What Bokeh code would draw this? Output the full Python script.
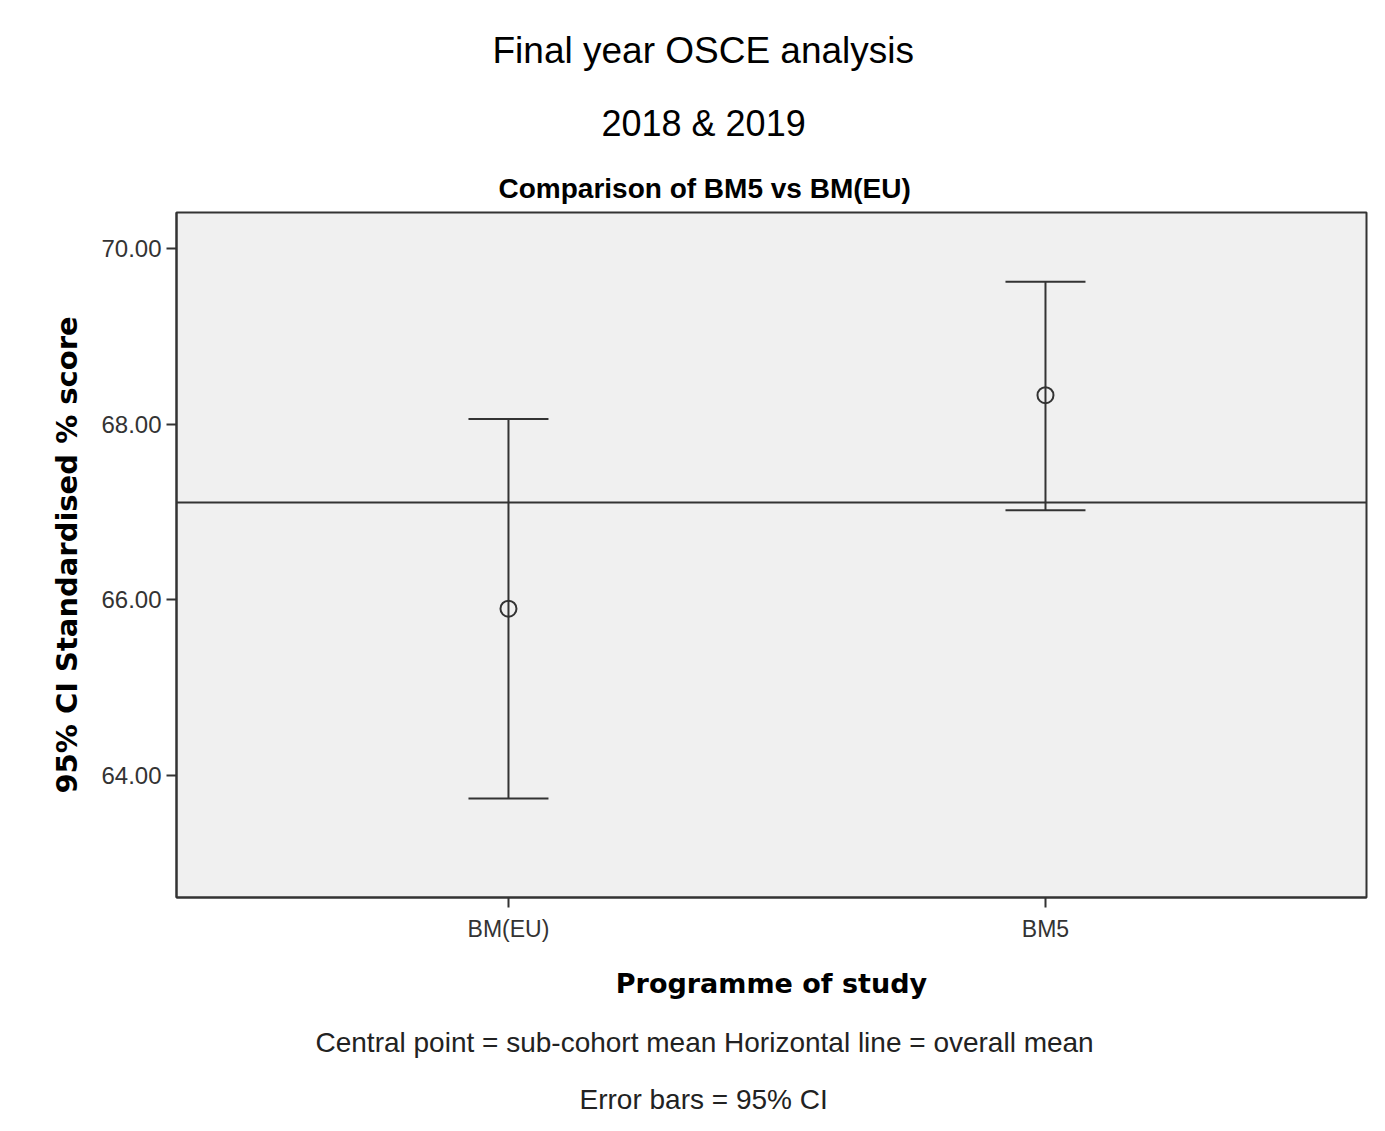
from bokeh.plotting import figure
from bokeh.models import Range1d, FixedTicker, Span, Whisker, TeeHead, ColumnDataSource, Title
from bokeh.embed import file_html
from bokeh.resources import INLINE

# ---- data ----
programmes = ["BM(EU)", "BM5"]
means = [65.90, 68.33]
ci_lower = [63.74, 67.02]
ci_upper = [68.06, 69.62]
overall_mean = 67.11
y_ticks = [64, 66, 68, 70]

title_lines = ["Final year OSCE analysis", "2018 & 2019"]
subtitle = "Comparison of BM5 vs BM(EU)"
footer_lines = ["Central point = sub-cohort mean Horizontal line = overall mean",
                "Error bars = 95% CI"]

positions = [i + 1 for i in range(len(programmes))]

W, H = 1369, 1115
FL, FR, FT, FB = 176, 1366, 212, 898  # frame edges in px

x0, x1 = 0.3818, 2.5978
y0, y1 = 62.614, 70.409

p = figure(width=W, height=H, output_backend="svg", toolbar_location=None,
           x_range=Range1d(x0, x1), y_range=Range1d(y0, y1),
           min_border_left=FL, min_border_right=W - FR,
           min_border_top=FT, min_border_bottom=H - FB)

p.border_fill_color = "white"
p.background_fill_color = "#f0f0f0"
p.outline_line_color = "#333333"
p.outline_line_width = 2
p.grid.visible = False

# axes
p.yaxis.ticker = FixedTicker(ticks=y_ticks)
p.yaxis.major_label_overrides = {t: f"{t:.2f}" for t in y_ticks}
p.xaxis.ticker = FixedTicker(ticks=positions)
p.xaxis.major_label_overrides = {pos: name for pos, name in zip(positions, programmes)}
for ax in (p.xaxis[0], p.yaxis[0]):
    ax.minor_tick_line_color = None
    ax.major_tick_in = 0
    ax.major_tick_out = 10
    ax.major_tick_line_color = "#333333"
    ax.major_tick_line_width = 2
    ax.axis_line_color = "#333333"
    ax.axis_line_width = 2
    ax.major_label_text_font = "Liberation Sans"
    ax.major_label_text_color = "#333333"
    ax.axis_label_text_font = "DejaVu Sans"
    ax.axis_label_text_font_style = "bold"
    ax.axis_label_text_color = "black"

p.yaxis.major_label_text_font_size = "24px"
p.yaxis.major_label_standoff = 5
p.yaxis.axis_label = "95% CI Standardised % score"
p.yaxis.axis_label_text_font_size = "29px"
p.yaxis.axis_label_standoff = 14

p.xaxis.major_label_text_font_size = "23px"
p.xaxis.major_label_standoff = 8
p.xaxis.axis_label = "Programme of study"
p.xaxis.axis_label_text_font_size = "27px"
p.xaxis.axis_label_standoff = 23

# overall mean line
p.add_layout(Span(location=overall_mean, dimension="width",
                  line_color="#333333", line_width=2))

# error bars
src = ColumnDataSource(dict(x=positions, mean=means, lo=ci_lower, hi=ci_upper))
p.add_layout(Whisker(source=src, base="x", lower="lo", upper="hi",
                     line_color="#333333", line_width=2,
                     upper_head=TeeHead(size=80, line_color="#333333", line_width=2),
                     lower_head=TeeHead(size=80, line_color="#333333", line_width=2)))
p.scatter("x", "mean", source=src, marker="circle", size=16,
          fill_color=None, line_color="#333333", line_width=2)

# titles (stacked outward from the frame)
p.add_layout(Title(text=subtitle, align="left", offset=322, standoff=17,
                   text_font="Liberation Sans", text_font_style="bold",
                   text_font_size="28px", text_color="black"), "above")
p.add_layout(Title(text=title_lines[1], align="left", offset=425, standoff=38,
                   text_font="Liberation Sans", text_font_style="normal",
                   text_font_size="36px", text_color="black"), "above")
p.add_layout(Title(text=title_lines[0], align="left", offset=316, standoff=21,
                   text_font="Liberation Sans", text_font_style="normal",
                   text_font_size="37px", text_color="black"), "above")

# footer
p.add_layout(Title(text=footer_lines[0], align="left", offset=139, standoff=47,
                   text_font="Liberation Sans", text_font_style="normal",
                   text_font_size="28px", text_color="#222222"), "below")
p.add_layout(Title(text=footer_lines[1], align="left", offset=403, standoff=1,
                   text_font="Liberation Sans", text_font_style="normal",
                   text_font_size="28px", text_color="#222222"), "below")

open("out.html", "w").write(file_html(p, INLINE))
